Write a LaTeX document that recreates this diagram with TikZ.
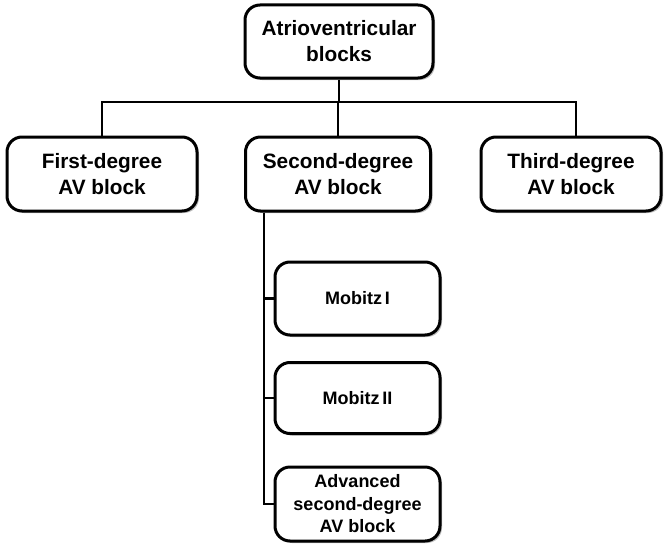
\documentclass[tikz,border=0pt]{standalone}
\usepackage{fontspec}
\setmainfont{Liberation Sans}
\usetikzlibrary{shadows}

\tikzset{
  blockbox/.style={draw=black, line width=3pt, rounded corners=15pt,
                   fill=white, align=center, inner sep=2pt,
                   drop shadow={shadow xshift=2pt, shadow yshift=-2pt,
                                opacity=0.25, fill=black}},
  link/.style={draw=black, line width=2.8pt},
}

\begin{document}
\begin{tikzpicture}[x=1pt, y=-1pt,
      topfont/.style={font=\fontsize{20.8}{26}\selectfont\bfseries},
      subfont/.style={font=\fontsize{18}{22.5}\selectfont\bfseries},
    ]
    \useasboundingbox (0,0) rectangle (666,543);

    % ======== ROOT ========
    \node[blockbox, topfont, minimum width=188pt, minimum height=73pt]
      (avb) at (339, 41.5) {Atrioventricular\\blocks};

    % ======== DEGREES ========
    \foreach \name/\cx/\w/\txt in {first/102/190/First-degree,
                                   second/338/185/Second-degree,
                                   third/571/180/Third-degree} {
      \node[blockbox, topfont, minimum width=\w pt, minimum height=74pt]
        (\name) at (\cx, 174) {\txt\\AV block};
    }

    % ======== SECOND-DEGREE TYPES ========
    \node[blockbox, subfont, minimum width=165pt, minimum height=73pt]
      (mob1) at (357.5, 298.5) {Mobitz\,I};
    \node[blockbox, subfont, minimum width=165pt, minimum height=71pt]
      (mob2) at (357.5, 398) {Mobitz\,II};
    \node[blockbox, subfont, minimum width=165pt, minimum height=74pt]
      (adv) at (357.5, 504) {Advanced\\second-degree\\AV block};

    % ======== CONNECTORS ========
    \coordinate (bus) at (339, 102);
    \draw[link] (avb.south) -- (bus);
    \draw[link] (bus) -| (first.north);
    \draw[link] (bus) -| (second.north);
    \draw[link] (bus) -| ([xshift=5pt]third.north);

    \draw[link] ([xshift=20pt]second.south west) |- (mob1.west);
    \draw[link] ([xshift=20pt]second.south west) |- (mob2.west);
    \draw[link] ([xshift=20pt]second.south west) |- (adv.west);

  \end{tikzpicture}
\end{document}
